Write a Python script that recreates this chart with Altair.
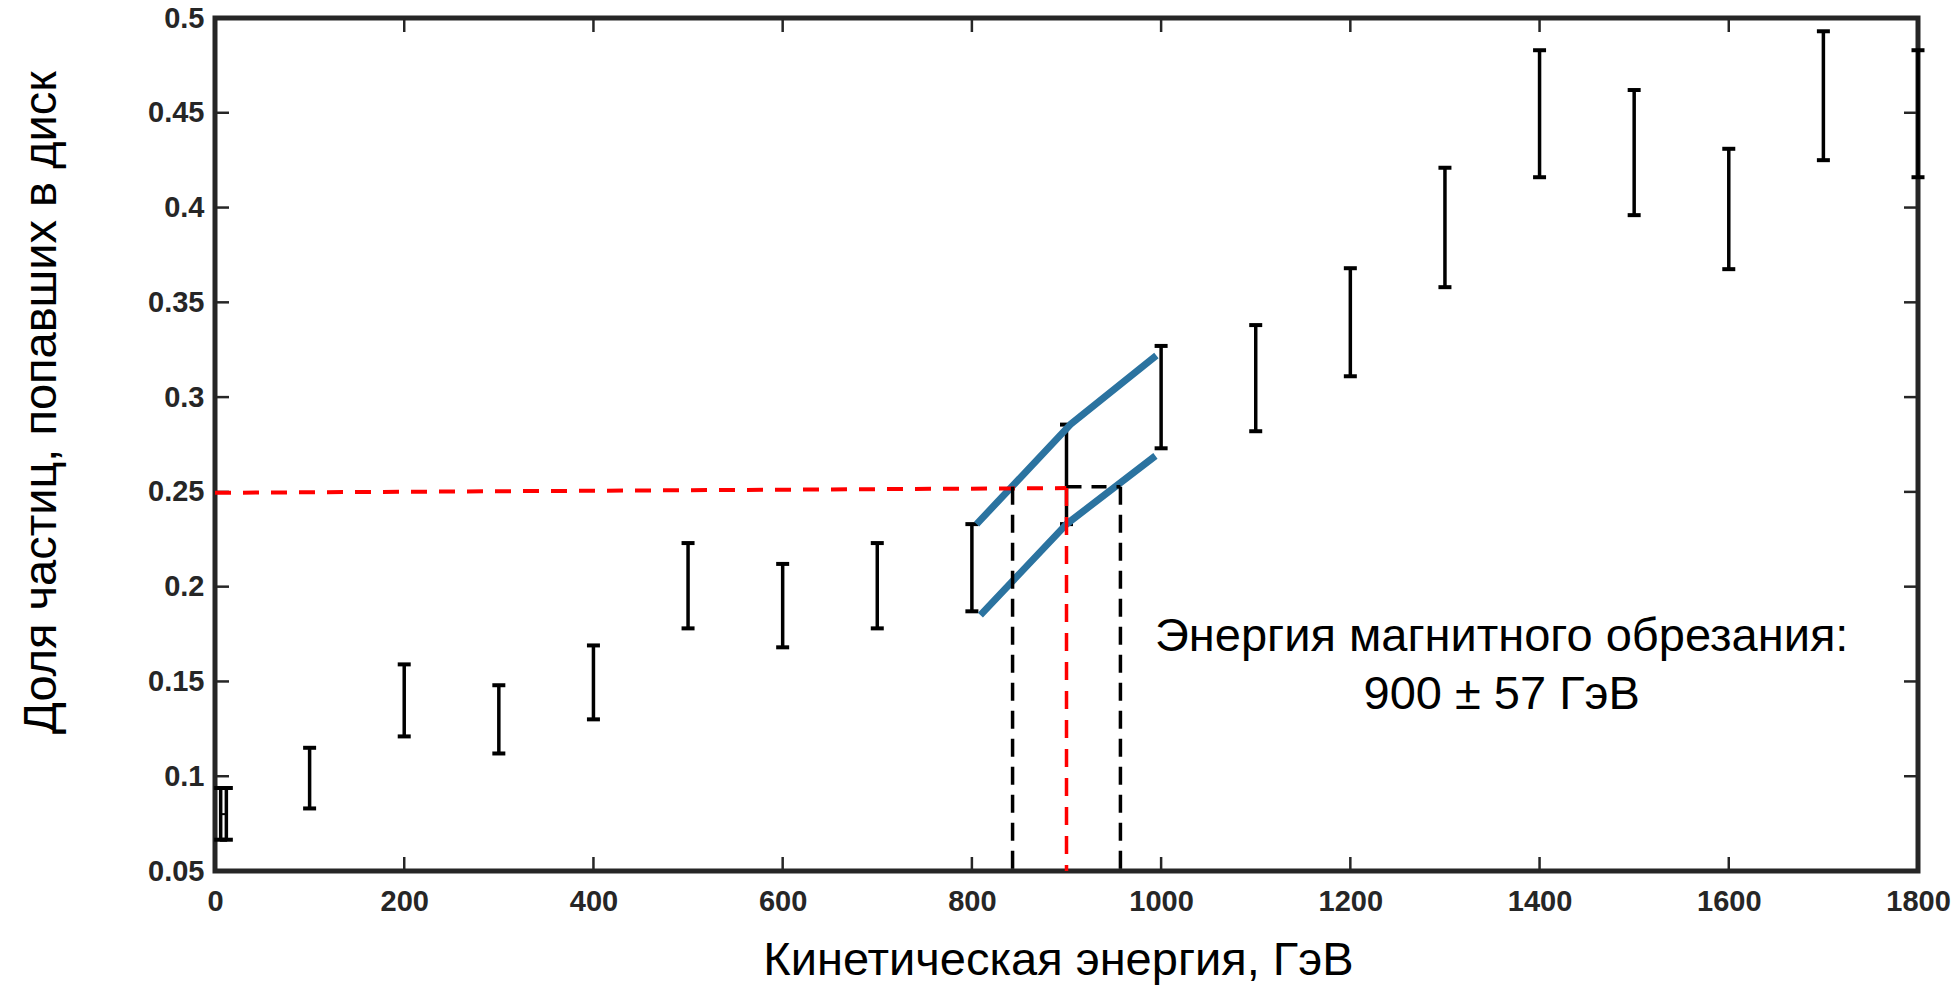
import altair as alt
import pandas as pd

# ---- data ----
energy = [6, 12, 100, 200, 300, 400, 500, 600, 700, 800, 900, 1000, 1100, 1200,
          1300, 1400, 1500, 1600, 1700, 1800]
low = [0.0665, 0.0665, 0.083, 0.121, 0.112, 0.130, 0.178, 0.168, 0.178, 0.187,
       0.233, 0.273, 0.282, 0.311, 0.358, 0.416, 0.396, 0.3675, 0.425, 0.416]
high = [0.0938, 0.0938, 0.115, 0.159, 0.148, 0.169, 0.223, 0.212, 0.223, 0.233,
        0.2855, 0.327, 0.338, 0.368, 0.421, 0.483, 0.462, 0.431, 0.493, 0.483]
first_mid_x = [9]
first_mid_y = [0.080]

upper_x = [805, 904, 995]
upper_y = [0.233, 0.2855, 0.322]
lower_x = [809, 900, 994]
lower_y = [0.185, 0.233, 0.269]

red_h_x = [0, 900]
red_h_y = [0.2495, 0.252]
red_v_x = [900]
red_v_top = [0.252]
black_h_x = [900, 957]
black_h_y = [0.2527]
black_v_x = [843, 957]
black_v_top = [0.2527]

annot_lines = ["Энергия магнитного обрезания:", "900 ± 57 ГэВ"]
annot_x = [1360, 1360]
annot_y = [0.1661, 0.1355]

x_ticks = [0, 200, 400, 600, 800, 1000, 1200, 1400, 1600, 1800]
y_ticks = [0.05, 0.1, 0.15, 0.2, 0.25, 0.3, 0.35, 0.4, 0.45, 0.5]
x_title = "Кинетическая энергия, ГэВ"
y_title = "Доля частиц, попавших в диск"

# ---- layout ----
W, H = 1703, 853
FONT = "Liberation Sans"
AX = "#262626"
TL = 14

xs = alt.Scale(domain=[0, 1800], nice=False, zero=False)
ys = alt.Scale(domain=[0.05, 0.5], nice=False, zero=False)

xaxis = alt.Axis(values=x_ticks, format="d", ticks=False, domain=False, grid=False,
                 labelFlush=False, labelOverlap=False,
                 labelFont=FONT, labelFontSize=29, labelFontWeight="bold", labelColor=AX,
                 labelPadding=16, title=x_title, titleFont=FONT, titleFontSize=47,
                 titleFontWeight="normal", titleColor="black", titleX=843, titleY=103,
                 titleBaseline="alphabetic", titleAlign="center")
yaxis = alt.Axis(values=y_ticks, format=".2~f", ticks=False, domain=False, grid=False,
                 labelFlush=False, labelOverlap=False,
                 labelFont=FONT, labelFontSize=29, labelFontWeight="bold", labelColor=AX,
                 labelPadding=11, title=y_title, titleFont=FONT, titleFontSize=47,
                 titleFontWeight="normal", titleColor="black", titleX=-160, titleY=384,
                 titleBaseline="alphabetic", titleAlign="center", titleAngle=270)


def X(f):
    return alt.X(f, type="quantitative", scale=xs, axis=xaxis)


def Y(f):
    return alt.Y(f, type="quantitative", scale=ys, axis=yaxis)


bars = pd.DataFrame({"E": energy, "lo": low, "hi": high})
stems = alt.Chart(bars).mark_rule(color="black", strokeWidth=3.5).encode(
    x=X("E"), y=Y("lo"), y2="hi")
cap_lo = alt.Chart(bars).mark_tick(orient="horizontal", size=13, thickness=4,
                                   color="black", opacity=1).encode(x=X("E"), y=Y("lo"))
cap_hi = alt.Chart(bars).mark_tick(orient="horizontal", size=13, thickness=4,
                                   color="black", opacity=1).encode(x=X("E"), y=Y("hi"))
mid = alt.Chart(pd.DataFrame({"E": first_mid_x, "m": first_mid_y})).mark_tick(
    orient="horizontal", size=6, thickness=2, color="black", opacity=1).encode(
    x=X("E"), y=Y("m"))

blue_df = pd.DataFrame({
    "E": upper_x + lower_x,
    "v": upper_y + lower_y,
    "g": ["upper"] * len(upper_x) + ["lower"] * len(lower_x),
})
blue = alt.Chart(blue_df).mark_line(color="#2b73a0", strokeWidth=7, strokeCap="butt",
                                    strokeJoin="round").encode(
    x=X("E"), y=Y("v"), detail="g:N")

red_h = alt.Chart(pd.DataFrame({"x1": [red_h_x[0]], "x2": [red_h_x[1]],
                                "y1": [red_h_y[0]], "y2": [red_h_y[1]]})).mark_rule(
    color="#ff0000", strokeWidth=4, strokeDash=[16, 12]).encode(
    x=X("x1"), x2="x2", y=Y("y1"), y2="y2")
red_v = alt.Chart(pd.DataFrame({"x": red_v_x, "top": red_v_top, "bot": [0.05]})).mark_rule(
    color="#ff0000", strokeWidth=3.5, strokeDash=[18, 11]).encode(
    x=X("x"), y=Y("top"), y2="bot")
black_h = alt.Chart(pd.DataFrame({"x1": [black_h_x[0]], "x2": [black_h_x[1]],
                                  "y": black_h_y})).mark_rule(
    color="black", strokeWidth=3.5, strokeDash=[15, 10]).encode(
    x=X("x1"), x2="x2", y=Y("y"))
black_v = alt.Chart(pd.DataFrame({"x": black_v_x, "top": black_v_top * 2,
                                  "bot": [0.05, 0.05]})).mark_rule(
    color="black", strokeWidth=3.5, strokeDash=[18, 10]).encode(
    x=X("x"), y=Y("top"), y2="bot")

annot = alt.Chart(pd.DataFrame({"x": annot_x, "y": annot_y, "t": annot_lines})).mark_text(
    font=FONT, fontSize=47, color="black", align="center", baseline="alphabetic").encode(
    x=X("x"), y=Y("y"), text="t:N")

# inward ticks on all four sides
xt = pd.DataFrame({"t": x_ticks})
yt = pd.DataFrame({"t": y_ticks})
tick_style = dict(color=AX, strokeWidth=2.5)
t_bottom = alt.Chart(xt).mark_rule(**tick_style).encode(
    x=X("t"), y=alt.value(H), y2=alt.value(H - TL))
t_top = alt.Chart(xt).mark_rule(**tick_style).encode(
    x=X("t"), y=alt.value(0), y2=alt.value(TL))
t_left = alt.Chart(yt).mark_rule(**tick_style).encode(
    y=Y("t"), x=alt.value(0), x2=alt.value(TL))
t_right = alt.Chart(yt).mark_rule(**tick_style).encode(
    y=Y("t"), x=alt.value(W), x2=alt.value(W - TL))

chart = alt.layer(
    t_bottom, t_top, t_left, t_right,
    stems, cap_lo, cap_hi, mid,
    blue, red_h, black_h, black_v, red_v, annot,
).properties(
    width=W, height=H,
    autosize=alt.AutoSizeParams(type="none"),
    padding={"left": 215, "top": 18, "right": 37, "bottom": 114},
    background="white",
).configure_view(
    stroke=AX, strokeWidth=5, fill="white"
)

chart.save("out.html", embed_options={"renderer": "svg", "actions": False})
